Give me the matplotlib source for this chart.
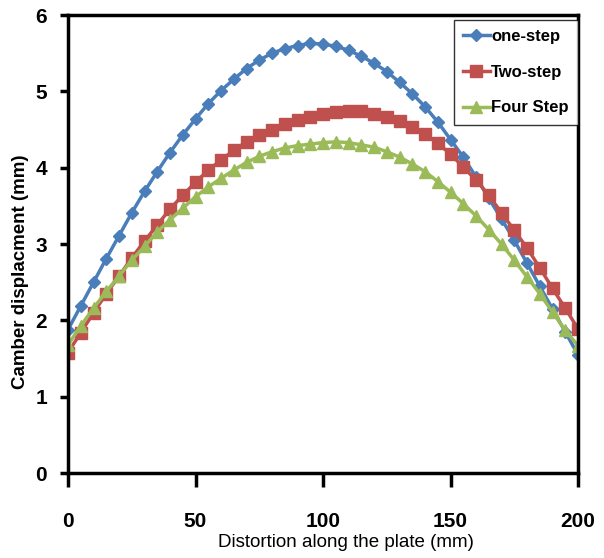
import matplotlib
matplotlib.use("Agg")
import matplotlib.pyplot as plt

plt.rcParams["font.family"] = ["Liberation Sans", "DejaVu Sans"]

# distance along the plate (mm), sampled every 5 mm
x_mm = [0, 5, 10, 15, 20, 25, 30, 35, 40, 45, 50, 55, 60, 65, 70, 75, 80, 85, 90, 95,
        100, 105, 110, 115, 120, 125, 130, 135, 140, 145, 150, 155, 160, 165, 170, 175,
        180, 185, 190, 195, 200]

one_step = [1.88, 2.19, 2.50, 2.81, 3.11, 3.41, 3.69, 3.95, 4.20, 4.43, 4.64, 4.84, 5.01,
            5.16, 5.30, 5.41, 5.50, 5.56, 5.60, 5.63, 5.62, 5.59, 5.54, 5.46, 5.37, 5.26,
            5.12, 4.97, 4.80, 4.60, 4.37, 4.14, 3.88, 3.60, 3.33, 3.05, 2.75, 2.45, 2.15,
            1.85, 1.55]

two_step = [1.58, 1.84, 2.10, 2.35, 2.58, 2.82, 3.04, 3.25, 3.46, 3.64, 3.81, 3.97, 4.10,
            4.23, 4.34, 4.43, 4.50, 4.57, 4.63, 4.67, 4.71, 4.73, 4.74, 4.74, 4.71, 4.67,
            4.61, 4.54, 4.44, 4.32, 4.18, 4.01, 3.84, 3.64, 3.41, 3.18, 2.95, 2.69, 2.42,
            2.16, 1.89]

four_step = [1.68, 1.93, 2.16, 2.38, 2.58, 2.79, 2.97, 3.16, 3.32, 3.47, 3.62, 3.75, 3.86,
             3.97, 4.07, 4.15, 4.21, 4.26, 4.29, 4.31, 4.33, 4.34, 4.33, 4.30, 4.27, 4.21,
             4.14, 4.05, 3.95, 3.82, 3.68, 3.53, 3.37, 3.19, 3.00, 2.79, 2.57, 2.35, 2.11,
             1.87, 1.67]

blue = "#4A7EBB"
red = "#C0504D"
green = "#9BBB59"

fig = plt.figure(figsize=(6.04, 5.58), dpi=100)
ax = fig.add_axes([0.1126, 0.152, 0.8444, 0.821])

ax.plot(x_mm, one_step, color=blue, lw=2.5, marker="D", ms=6, label="one-step")
ax.plot(x_mm, two_step, color=red, lw=2.5, marker="s", ms=8, label="Two-step")
ax.plot(x_mm, four_step, color=green, lw=2.5, marker="^", ms=8, label="Four Step")

ax.set_xlim(0, 200)
ax.set_ylim(0, 6)
ax.set_xticks([0, 50, 100, 150, 200])
ax.set_yticks([0, 1, 2, 3, 4, 5, 6])

for s in ax.spines.values():
    s.set_linewidth(2.5)
    s.set_color("black")

ax.tick_params(axis="x", direction="out", length=10, width=2.5, pad=18, labelsize=15)
ax.tick_params(axis="y", direction="out", length=6, width=2.5, pad=9, labelsize=15)
for lab in ax.get_xticklabels() + ax.get_yticklabels():
    lab.set_fontweight("bold")

ax.set_xlabel("Distortion along the plate (mm)", fontsize=13.5)
ax.xaxis.set_label_coords(0.545, -0.132)
ax.set_ylabel("Camber displacment (mm)", fontsize=13.5, fontweight="bold")
ax.yaxis.set_label_coords(-0.077, 0.44)

leg = ax.legend(loc="upper right", bbox_to_anchor=(1.0, 0.99), fontsize=12,
                frameon=True, fancybox=False, handlelength=1.6, handletextpad=0.1,
                labelspacing=1.25, borderpad=0.55, borderaxespad=0.0)
leg.get_frame().set_edgecolor("black")
leg.get_frame().set_linewidth(1.0)
for t in leg.get_texts():
    t.set_fontweight("bold")

fig.savefig("out.png", dpi=100)
